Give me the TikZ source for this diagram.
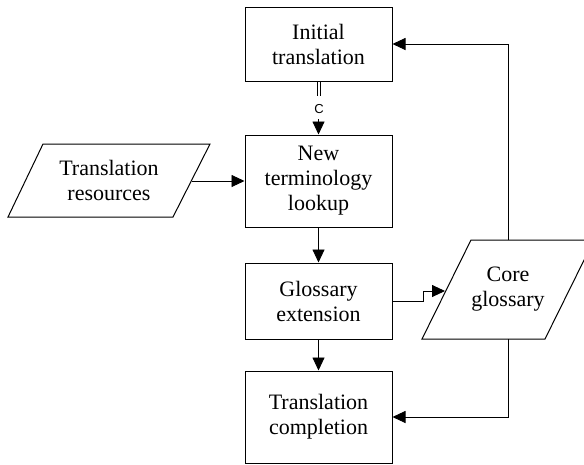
\documentclass[tikz,border=0pt]{standalone}
\usepackage{fontspec}
\setmainfont{Liberation Serif}
\newfontfamily\labelfont{Liberation Sans}
\usetikzlibrary{arrows.meta}
\tikzset{
  procbox/.style={draw, line width=1pt, minimum width=147pt, inner sep=0pt, align=center,
    font=\fontsize{22}{25}\selectfont},
  iotext/.style={align=center, inner sep=0pt, font=\fontsize{22}{25}\selectfont},
  iobox/.style={draw, line width=1pt},
  conn/.style={line width=0.9pt, -{Triangle[length=13pt,width=12pt]}},
}
\begin{document}
\begin{tikzpicture}[x=1pt,y=-1pt]
\useasboundingbox (0,0) rectangle (584,464);
% process boxes
\node[procbox, minimum height=74pt] (init) at (318.5,44) {Initial\\translation};
\node[procbox, minimum height=92pt] (lookup) at (318.5,181) {New\\terminology\\lookup};
\node[procbox, minimum height=76pt] (ext) at (318.5,301) {Glossary\\extension};
\node[procbox, minimum height=92pt] (compl) at (318.5,417) {Translation\\completion};
% Translation resources parallelogram
\draw[iobox] (43,144) -- (210,144) -- (173,217) -- (8,217) -- cycle;
\node[iotext] (res) at (109,180.5) {Translation\\resources};
\coordinate (resout) at (192,181);
% Core glossary parallelogram
\draw[iobox] (471,240) -- (594,240) -- (545,339) -- (422,339) -- cycle;
\node[iotext] (core) at (508,289.5) {Core\\glossary};
\coordinate (coretop) at (508,240);
\coordinate (corebot) at (508,339);
\coordinate (corein) at (445,291);
% connectors
\draw[line width=0.7pt] ([xshift=-1.5pt]init.south) -- ++(0,14);
\draw[line width=0.7pt] ([xshift=1.5pt]init.south) -- ++(0,14);
\node[font=\labelfont\fontsize{13}{15}\selectfont, inner sep=0pt] (clabel) at (319,109) {C};
\coordinate (cstart) at (318.5,119);
\draw[conn] (cstart) -- (lookup.north);
\draw[conn] (resout) -- (resout -| lookup.west);
\draw[conn] (lookup.south) -- (ext.north);
\draw[conn] (ext.south) -- (compl.north);
\draw[conn] (coretop) |- (init.east);
\draw[conn] (corebot) |- (compl.east);
\draw[conn] (ext.east) -- (423,301) -- (423,291) -- (corein);
\end{tikzpicture}
\end{document}
